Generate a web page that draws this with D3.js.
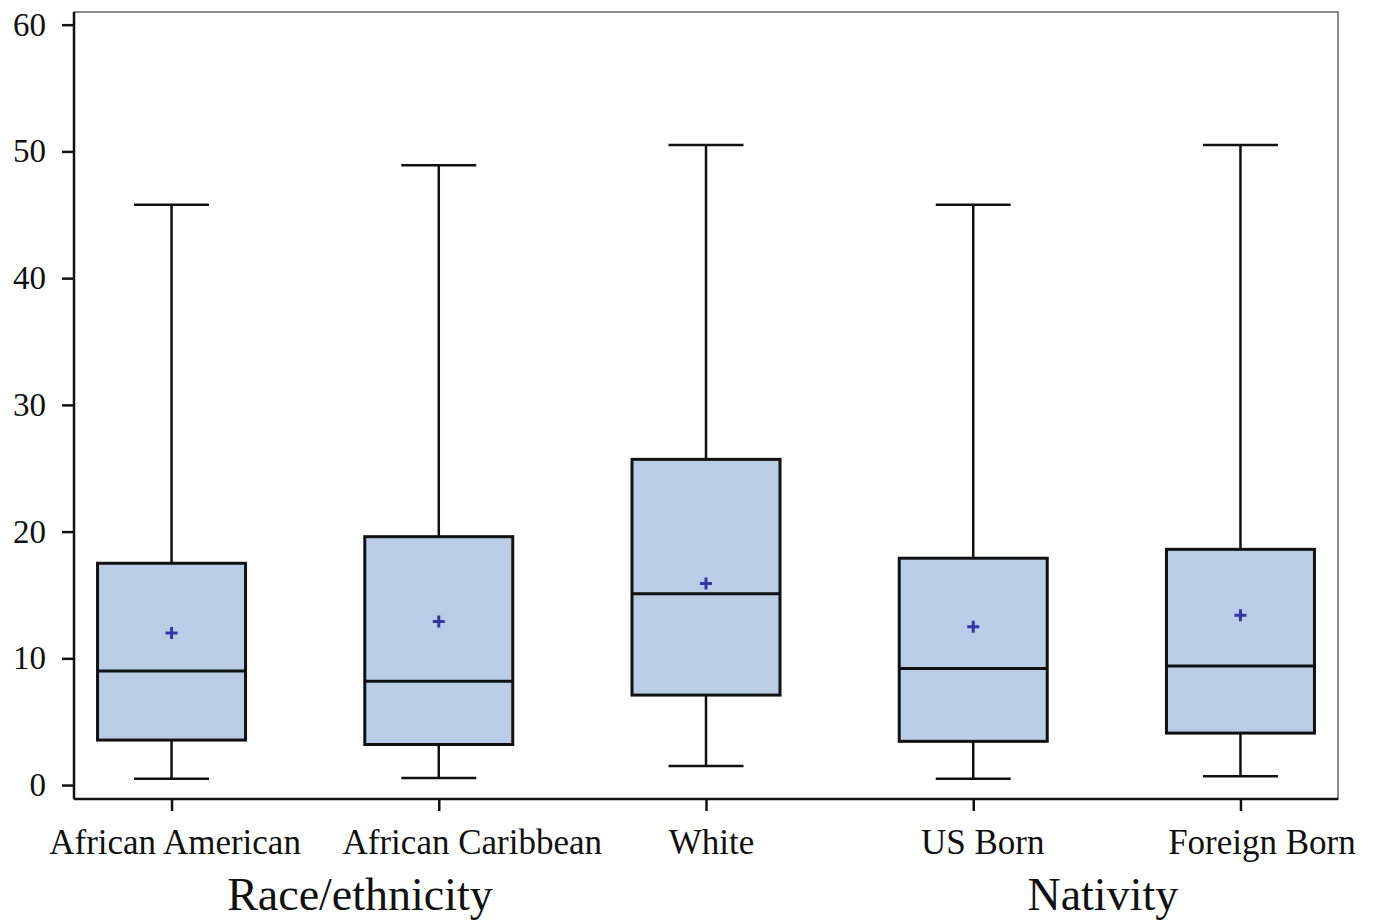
<!DOCTYPE html>
<html>
<head>
<meta charset="utf-8">
<script src="https://cdn.jsdelivr.net/npm/d3@7"></script>
<style>
  body { margin: 0; background: #fff; }
  text { font-family: "Liberation Serif", "DejaVu Serif", serif; fill: #111; }
</style>
</head>
<body>
<svg id="chart" width="1373" height="923"></svg>
<script>
// groups along the x axis
const categories = ["African American", "African Caribbean", "White", "US Born", "Foreign Born"];
// box plot statistics per group
const whiskerLow  = [0.5, 0.55, 1.5, 0.5, 0.7];
const q1          = [3.55, 3.2, 7.1, 3.45, 4.1];
const median      = [9.0, 8.2, 15.1, 9.2, 9.4];
const q3          = [17.5, 19.6, 25.7, 17.9, 18.6];
const whiskerHigh = [45.8, 48.9, 50.5, 45.8, 50.5];
const means       = [12.0, 12.9, 15.9, 12.5, 13.4];
const yTicks = [0, 10, 20, 30, 40, 50, 60];
const groupTitles = ["Race/ethnicity", "Nativity"];

const svg = d3.select("#chart");
const margin = { top: 12, right: 35, bottom: 124, left: 74 };
const width = 1373 - margin.left - margin.right;
const height = 923 - margin.top - margin.bottom;

const data = categories.map((c, i) => ({
    name: c, lo: whiskerLow[i], q1: q1[i], med: median[i], q3: q3[i], hi: whiskerHigh[i], mean: means[i]
}));

const x = d3.scalePoint()
    .domain(categories)
    .range([0, width])
    .padding(0.365);

const y = d3.scaleLinear()
    .domain([-1.1, 61])
    .range([height, 0]);

const g = svg.append("g")
    .attr("transform", `translate(${margin.left},${margin.top})`);

// frame (top/right thin)
g.append("rect")
    .attr("width", width).attr("height", height)
    .attr("fill", "none").attr("stroke", "#666").attr("stroke-width", 1.5);

const boxW = 148, capW = 75;

const box = g.selectAll(".box")
    .data(data)
    .join("g")
    .attr("transform", d => `translate(${x(d.name)},0)`);

// whiskers
box.append("line")
    .attr("y1", d => y(d.hi)).attr("y2", d => y(d.q3))
    .attr("stroke", "#111").attr("stroke-width", 2.5);
box.append("line")
    .attr("y1", d => y(d.q1)).attr("y2", d => y(d.lo))
    .attr("stroke", "#111").attr("stroke-width", 2.5);
box.append("line")
    .attr("x1", -capW / 2).attr("x2", capW / 2)
    .attr("y1", d => y(d.hi)).attr("y2", d => y(d.hi))
    .attr("stroke", "#111").attr("stroke-width", 2.5);
box.append("line")
    .attr("x1", -capW / 2).attr("x2", capW / 2)
    .attr("y1", d => y(d.lo)).attr("y2", d => y(d.lo))
    .attr("stroke", "#111").attr("stroke-width", 2.5);

box.append("rect")
    .attr("x", -boxW / 2).attr("width", boxW)
    .attr("y", d => y(d.q3))
    .attr("height", d => y(d.q1) - y(d.q3))
    .attr("fill", "#b9cde6").attr("stroke", "#111").attr("stroke-width", 3);

box.append("line")
    .attr("x1", -boxW / 2).attr("x2", boxW / 2)
    .attr("y1", d => y(d.med)).attr("y2", d => y(d.med))
    .attr("stroke", "#111").attr("stroke-width", 3);

// mean marker
box.append("path")
    .attr("d", d => `M-6,${y(d.mean)}h12M0,${y(d.mean) - 6}v12`)
    .attr("stroke", "#3535a8").attr("stroke-width", 3);

// axes
const yAxis = g.append("g")
    .call(d3.axisLeft(y).tickValues(yTicks).tickSize(12).tickPadding(16));
const xAxis = g.append("g")
    .attr("transform", `translate(0,${height})`)
    .call(d3.axisBottom(x).tickSize(12).tickPadding(18));

[yAxis, xAxis].forEach(a => {
    a.select(".domain").attr("stroke", "#111").attr("stroke-width", 2.5);
    a.selectAll(".tick line").attr("stroke", "#111").attr("stroke-width", 2.5);
    a.selectAll("text").attr("fill", "#111").style("font-family", "Liberation Serif");
});
yAxis.selectAll("text").style("font-size", "33px");
xAxis.selectAll("text").style("font-size", "35px");
// right-nudge x labels like the original layout
const labelShift = [3, 33, 5, 9, 21];
xAxis.selectAll(".tick text").attr("dx", (d, i) => labelShift[i]);
yAxis.select(".domain").attr("d", `M-0,${height}V0`);
xAxis.select(".domain").attr("d", `M0,0H${width}`);

// group titles
const titleX = [286, (x(categories[3]) + x(categories[4])) / 2 - 4];
g.selectAll(".gtitle")
    .data(groupTitles)
    .join("text")
    .attr("x", (d, i) => titleX[i])
    .attr("y", 910 - margin.top)
    .attr("text-anchor", "middle")
    .style("font-size", "46px")
    .text(d => d);
</script>
</body>
</html>
